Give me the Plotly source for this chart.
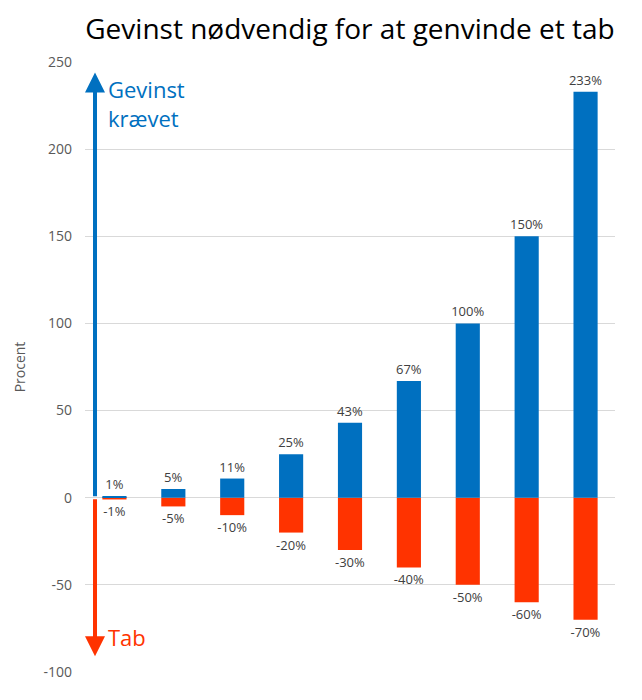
import plotly.graph_objects as go

# categories (no visible labels on the x axis)
tab_labels = ["1%", "5%", "10%", "20%", "30%", "40%", "50%", "60%", "70%"]
gevinst = [1, 5, 11, 25, 43, 67, 100, 150, 233]
tab = [-1, -5, -10, -20, -30, -40, -50, -60, -70]
y_ticks = [-100, -50, 0, 50, 100, 150, 200, 250]

BLUE = "#0070C0"
RED = "#FF3300"
FONT = "Open Sans"

x_pos = list(range(len(tab_labels)))
# plain hyphen as in the original, not plotly's unicode minus
tab_text = [f"{v}%" for v in tab]
gevinst_text = [f"{v}%" for v in gevinst]

fig = go.Figure()
fig.add_trace(go.Bar(
    x=x_pos, y=tab, marker_color=RED, marker_line_width=0,
    text=tab_text, textposition="outside", constraintext="none",
    textfont=dict(size=13, color="#404040", family=FONT),
    cliponaxis=False, name="Tab",
))
fig.add_trace(go.Bar(
    x=x_pos, y=gevinst, marker_color=BLUE, marker_line_width=0,
    text=gevinst_text, textposition="outside", constraintext="none",
    textfont=dict(size=13, color="#404040", family=FONT),
    cliponaxis=False, name="Gevinst",
))

# the two arrows on the left
fig.add_annotation(x=-0.33, y=244, ax=-0.33, ay=0, xref="x", yref="y",
                   axref="x", ayref="y", text="", showarrow=True,
                   arrowhead=2, arrowsize=1, arrowwidth=4, arrowcolor=BLUE,
                   standoff=0, startstandoff=0)
fig.add_annotation(x=-0.33, y=-91, ax=-0.33, ay=0, xref="x", yref="y",
                   axref="x", ayref="y", text="", showarrow=True,
                   arrowhead=2, arrowsize=1, arrowwidth=4, arrowcolor=RED,
                   standoff=0, startstandoff=0)
fig.add_annotation(x=-0.14, y=226, xref="x", yref="y", xanchor="left",
                   yanchor="middle", align="left", showarrow=False,
                   text="Gevinst<br>krævet",
                   font=dict(size=22, color=BLUE, family=FONT))
fig.add_annotation(x=-0.14, y=-80, xref="x", yref="y", xanchor="left",
                   yanchor="middle", showarrow=False, text="Tab",
                   font=dict(size=22, color=RED, family=FONT))

# page body has an 8px margin, so the figure is a bit smaller than the window
fig.update_layout(
    width=634, height=692,
    barmode="overlay", bargap=0.59,
    showlegend=False,
    paper_bgcolor="white", plot_bgcolor="white",
    margin=dict(l=77, r=27, t=54, b=28),
    font=dict(family=FONT, color="#595959"),
    title=dict(text="Gevinst nødvendig for at genvinde et tab",
               x=0.5, xref="paper", xanchor="center",
               y=1 - 11 / 692, yanchor="top", pad=dict(t=0),
               font=dict(size=28, color="black", family=FONT)),
)
fig.update_xaxes(range=[-0.5, 8.5], showticklabels=False, showgrid=False,
                 zeroline=False, showline=False)
fig.update_yaxes(range=[-100, 250], tickvals=y_ticks,
                 ticktext=[str(v) for v in y_ticks], showgrid=True,
                 gridcolor="#D9D9D9", gridwidth=1, zeroline=True,
                 zerolinecolor="#D9D9D9", zerolinewidth=1, showline=False,
                 ticklabelstandoff=12,
                 tickfont=dict(size=14, color="#595959"),
                 title=dict(text="Procent", standoff=14,
                            font=dict(size=14, color="#595959")))

fig.write_html("out.html")
